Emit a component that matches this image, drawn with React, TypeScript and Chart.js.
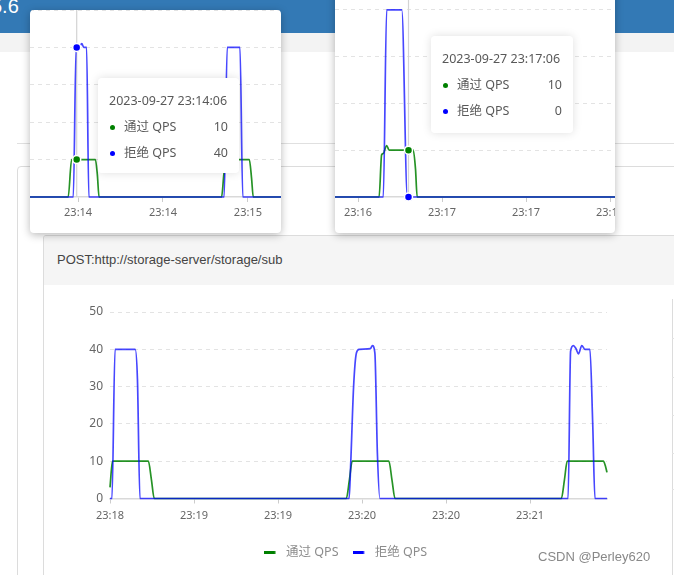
import React, { useEffect, useRef } from "react";
import { Chart, registerables } from "chart.js";

Chart.register(...registerables);

// ---------- shared ----------
const seriesNames = ["通过 QPS", "拒绝 QPS"];
const lineColors = ["rgba(0,128,0,0.85)", "rgba(0,0,255,0.72)"];
const dotColors = ["#008000", "#0000ff"];
const yTickValues = [0, 10, 20, 30, 40, 50];

// ---------- main chart (seconds from left edge) ----------
const mainTickValues = [0, 30, 60, 90, 120, 150];
const mainTickLabels = ["23:18", "23:19", "23:19", "23:20", "23:20", "23:21"];
const mainRange = [0, 177.5];
const mainPassTimes = [0, 0.9, 13.7, 14.8, 15.8, 84.4, 85.5, 86.5, 99.6, 100.7, 101.8, 161.2, 162.3, 163.3, 176.2, 177, 177.5];
const mainPassValues = [3, 10, 10, 5, 0, 0, 5, 10, 10, 5, 0, 0, 5, 10, 10, 8.5, 7];
const mainBlockTimes = [0, 0.7, 1.8, 9, 9.8, 10.7, 85.4, 86, 87, 88, 89, 93, 93.7, 94.6, 95.5, 96.4, 163.6, 164.5, 165.5, 166.4, 167.3, 168.5, 169.6, 171.4, 172.4, 173.2, 177.5];
const mainBlockValues = [0, 0, 40, 40, 32, 0, 0, 10, 30, 39, 40, 40.2, 41, 39, 12, 0, 0, 39.5, 41, 40.2, 38.8, 41, 40, 40, 20, 0, 0];

// ---------- popup card 1 (seconds from 23:14:06) ----------
const card1Title = "2023-09-27 23:14:06";
const card1Range = [-16.5, 72.2];
const card1TickValues = [0.5, 30.5, 60.5];
const card1TickLabels = ["23:14", "23:14", "23:15"];
const card1PassTimes = [-16.5, -3, -1.8, 0, 6.6, 7.3, 7.9, 51.2, 52, 52.8, 61, 61.8, 62.4, 72.2];
const card1PassValues = [0, 0, 10, 10, 10, 6, 0, 0, 6, 10, 10, 5, 0, 0];
const card1BlockTimes = [-16.5, -1.2, -0.2, 0, 1, 1.8, 2.5, 3.5, 4.3, 52.1, 53.2, 57.7, 58.7, 72.2];
const card1BlockValues = [0, 0, 40, 40, 40.2, 41, 40, 40, 0, 0, 40, 40, 0, 0];

// ---------- popup card 2 (seconds from 23:17:06) ----------
const card2Title = "2023-09-27 23:17:06";
const card2Range = [-26.25, 80.9];
const card2TickValues = [-18, 12, 42, 72];
const card2TickLabels = ["23:16", "23:17", "23:17", "23:18"];
const card2PassTimes = [-26.25, -10.5, -9.6, -9, -7.8, -6.9, 0, 1.7, 2.5, 3.1, 80.9];
const card2PassValues = [0, 0, 9, 9.3, 11, 10, 10, 10, 6, 0, 0];
const card2BlockTimes = [-26.25, -9, -7.8, -2.4, -0.4, 0, 80.9];
const card2BlockValues = [0, 0, 40, 40, 0, 0, 0];

const FONT = '"Noto Sans", "Noto Sans CJK SC", sans-serif';

const hoverPlugin = {
  id: "hoverMarker",
  beforeDatasetsDraw(chart: any, _a: any, opts: any) {
    if (opts == null || opts.time == null) return;
    const ctx = chart.ctx;
    const x = chart.scales.x.getPixelForValue(opts.time);
    const { top, bottom } = chart.chartArea;
    ctx.save();
    ctx.strokeStyle = "#d3d3d3";
    ctx.lineWidth = 1.2;
    ctx.beginPath();
    ctx.moveTo(x, top);
    ctx.lineTo(x, bottom);
    ctx.stroke();
    ctx.restore();
  },
  afterDatasetsDraw(chart: any, _a: any, opts: any) {
    if (opts == null || opts.time == null) return;
    const ctx = chart.ctx;
    chart.data.datasets.forEach((ds: any, i: number) => {
      const p = ds.data.find((d: any) => d.x === opts.time);
      if (!p) return;
      const x = chart.scales.x.getPixelForValue(p.x);
      const y = chart.scales.y.getPixelForValue(p.y);
      ctx.save();
      ctx.beginPath();
      ctx.arc(x, y, 4, 0, Math.PI * 2);
      ctx.fillStyle = dotColors[i];
      ctx.fill();
      ctx.lineWidth = 1.5;
      ctx.strokeStyle = "#fff";
      ctx.stroke();
      ctx.restore();
    });
  },
};

type ChartProps = {
  left: number;
  top: number;
  width: number;
  height: number;
  passT: number[];
  passV: number[];
  blockT: number[];
  blockV: number[];
  range: number[];
  tickValues: number[];
  tickLabels: string[];
  padTop: number;
  xAxisHeight: number;
  yAxisWidth: number;
  rightWidth: number;
  showYLabels: boolean;
  showLegend: boolean;
  hoverTime?: number;
  tickPadding: number;
};

function makeLegendImage(color: string) {
  const c = document.createElement("canvas");
  c.width = 16;
  c.height = 3;
  const g = c.getContext("2d")!;
  g.fillStyle = color;
  g.fillRect(0, 0, 11.6, 3);
  return c;
}

function QpsChart(p: ChartProps) {
  const ref = useRef<HTMLCanvasElement>(null);
  useEffect(() => {
    const toPoints = (t: number[], v: number[]) => t.map((x, i) => ({ x, y: v[i] }));
    const legendImages = dotColors.map(makeLegendImage);
    const chart = new Chart(ref.current!, {
      type: "line",
      data: {
        datasets: [
          {
            label: seriesNames[0],
            data: toPoints(p.passT, p.passV),
            borderColor: lineColors[0],
            backgroundColor: lineColors[0],
            borderWidth: 1.7,
            pointRadius: 0,
            cubicInterpolationMode: "monotone",
            fill: false,
            clip: 4,
            order: 2,
          },
          {
            label: seriesNames[1],
            data: toPoints(p.blockT, p.blockV),
            borderColor: lineColors[1],
            backgroundColor: lineColors[1],
            borderWidth: 1.7,
            pointRadius: 0,
            cubicInterpolationMode: "monotone",
            fill: false,
            clip: 4,
            order: 1,
          },
        ],
      },
      options: {
        animation: false,
        responsive: false,
        events: [],
        layout: { autoPadding: false, padding: { top: p.padTop, left: 0, right: 0, bottom: 0 } },
        scales: {
          x: {
            type: "linear",
            min: p.range[0],
            max: p.range[1],
            afterBuildTicks: (s: any) => {
              s.ticks = p.tickValues.map((v) => ({ value: v }));
            },
            afterFit: (s: any) => {
              s.height = p.xAxisHeight;
            },
            ticks: {
              autoSkip: false,
              maxRotation: 0,
              padding: p.tickPadding,
              color: "#666",
              font: { size: 11, family: FONT },
              callback: (_v: any, i: number) => p.tickLabels[i],
            },
            grid: { drawOnChartArea: false, drawTicks: true, tickLength: 5, color: "#cccccc" },
            border: { display: true, color: "#d9d9d9", width: 1.5 },
          },
          y: {
            type: "linear",
            min: 0,
            max: 50,
            afterBuildTicks: (s: any) => {
              s.ticks = yTickValues.map((v) => ({ value: v }));
            },
            afterFit: (s: any) => {
              s.width = p.yAxisWidth;
            },
            ticks: { display: p.showYLabels, padding: 7, color: "#666", font: { size: 12, family: FONT } },
            grid: {
              drawTicks: false,
              color: (c: any) => (c.tick && c.tick.value === 0 ? "rgba(0,0,0,0)" : "#e3e3e3"),
            },
            border: { display: false, dash: [4, 4] },
          },
          yRight: {
            type: "linear",
            position: "right",
            display: p.rightWidth > 0,
            afterFit: (s: any) => {
              s.width = p.rightWidth;
            },
            ticks: { display: false },
            grid: { display: false },
            border: { display: false },
          },
        },
        plugins: {
          legend: {
            display: p.showLegend,
            position: "bottom",
            labels: {
              usePointStyle: true,
              pointStyleWidth: 16,
              padding: 14,
              color: "#8c8c8c",
              font: { size: 12.5, family: FONT },
              generateLabels: (ch: any) =>
                ch.data.datasets.map((ds: any, i: number) => ({
                  text: ds.label,
                  pointStyle: legendImages[i],
                  fillStyle: dotColors[i],
                  strokeStyle: dotColors[i],
                  lineWidth: 0,
                  hidden: false,
                  datasetIndex: i,
                  fontColor: "#8c8c8c",
                })),
            },
          },
          tooltip: { enabled: false },
          hoverMarker: { time: p.hoverTime },
        } as any,
      } as any,
      plugins: [hoverPlugin],
    });
    return () => chart.destroy();
  }, []);
  return (
    <canvas
      ref={ref}
      width={p.width}
      height={p.height}
      style={{ position: "absolute", left: p.left, top: p.top, width: p.width, height: p.height }}
    />
  );
}

function Tip(props: { left: number; top: number; width: number; height: number; title: string; values: number[] }) {
  return (
    <div
      style={{
        position: "absolute",
        left: props.left,
        top: props.top,
        width: props.width,
        height: props.height,
        background: "#fff",
        borderRadius: 4,
        boxShadow: "0 0 10px rgba(0,0,0,0.13)",
        fontFamily: FONT,
        fontSize: 12.5,
        color: "#595959",
      }}
    >
      <div style={{ position: "absolute", left: 11, top: 15, lineHeight: "16px", whiteSpace: "nowrap" }}>{props.title}</div>
      {seriesNames.map((n, i) => (
        <div key={i} style={{ position: "absolute", left: 0, right: 11, top: 41 + i * 26, height: 16, lineHeight: "16px" }}>
          <span
            style={{
              position: "absolute",
              left: 12,
              top: 5.5,
              width: 5,
              height: 5,
              borderRadius: "50%",
              background: dotColors[i],
            }}
          />
          <span style={{ position: "absolute", left: 26, whiteSpace: "nowrap" }}>{n}</span>
          <span style={{ position: "absolute", right: 0 }}>{props.values[i]}</span>
        </div>
      ))}
    </div>
  );
}

const valueAt = (t: number[], v: number[], time: number) => v[t.indexOf(time)];

export default function App() {
  const rowLines = [338, 377, 415, 453, 489];
  return (
    <div
      style={{
        position: "fixed",
        left: 0,
        top: 0,
        width: 674,
        height: 575,
        overflow: "hidden",
        background: "#fff",
        fontFamily: FONT,
      }}
    >
      {/* page header */}
      <div style={{ position: "absolute", left: 0, top: 0, width: 674, height: 33, background: "#3379b5", overflow: "hidden" }}>
        <span
          style={{
            position: "absolute",
            left: -9,
            top: -4,
            fontSize: 20,
            lineHeight: "20px",
            color: "#fff",
            fontFamily: '"Liberation Sans", Arial, sans-serif',
          }}
        >
          5.6
        </span>
      </div>
      <div style={{ position: "absolute", left: 0, top: 33, width: 674, height: 19, background: "#f3f3f3" }} />
      <div style={{ position: "absolute", left: 17, top: 143, width: 700, height: 0, borderTop: "1px solid #e0e0e0" }} />
      <div
        style={{
          position: "absolute",
          left: 17,
          top: 166,
          width: 700,
          height: 500,
          border: "1px solid #dcdcdc",
          borderRadius: 4,
        }}
      />

      {/* main card */}
      <div
        style={{
          position: "absolute",
          left: 43,
          top: 235,
          width: 700,
          height: 400,
          border: "1px solid #dcdcdc",
          borderRadius: 3,
          background: "#fff",
          overflow: "hidden",
        }}
      >
        <div
          style={{
            position: "absolute",
            left: 0,
            top: 0,
            width: 700,
            height: 49,
            background: "#f5f5f5",
            lineHeight: "47px",
            paddingLeft: 13,
            fontSize: 13,
            color: "#444",
            fontFamily: '"Liberation Sans", Arial, sans-serif',
          }}
        >
          POST:http://storage-server/storage/sub
        </div>
      </div>
      <div style={{ position: "absolute", left: 672, top: 299, width: 10, height: 300, borderLeft: "1px solid #dcdcdc" }} />
      {rowLines.map((y, i) => (
        <div key={i} style={{ position: "absolute", left: 672, top: y, width: 10, height: 0, borderTop: "1px solid #e3e3e3" }} />
      ))}

      <QpsChart
        left={44}
        top={290}
        width={603}
        height={279}
        passT={mainPassTimes}
        passV={mainPassValues}
        blockT={mainBlockTimes}
        blockV={mainBlockValues}
        range={mainRange}
        tickValues={mainTickValues}
        tickLabels={mainTickLabels}
        padTop={22}
        xAxisHeight={34}
        yAxisWidth={66}
        rightWidth={40}
        showYLabels={true}
        showLegend={true}
        tickPadding={6}
      />

      {/* popup card 1 */}
      <div
        style={{
          position: "absolute",
          left: 30,
          top: 10,
          width: 251,
          height: 223,
          background: "#fff",
          borderRadius: 4,
          boxShadow: "0 2px 8px rgba(0,0,0,0.28)",
          overflow: "hidden",
        }}
      >
        <QpsChart
          left={0}
          top={0}
          width={251}
          height={223}
          passT={card1PassTimes}
          passV={card1PassValues}
          blockT={card1BlockTimes}
          blockV={card1BlockValues}
          range={card1Range}
          tickValues={card1TickValues}
          tickLabels={card1TickLabels}
          padTop={0}
          xAxisHeight={36}
          yAxisWidth={0}
          rightWidth={0}
          showYLabels={false}
          showLegend={false}
          hoverTime={0}
          tickPadding={4}
        />
      </div>
      <Tip
        left={98}
        top={78}
        width={141}
        height={95}
        title={card1Title}
        values={[valueAt(card1PassTimes, card1PassValues, 0), valueAt(card1BlockTimes, card1BlockValues, 0)]}
      />

      {/* popup card 2 */}
      <div
        style={{
          position: "absolute",
          left: 335,
          top: -40,
          width: 280,
          height: 273,
          background: "#fff",
          borderRadius: 4,
          boxShadow: "0 2px 8px rgba(0,0,0,0.28)",
          overflow: "hidden",
        }}
      >
        <QpsChart
          left={0}
          top={0}
          width={300}
          height={273}
          passT={card2PassTimes}
          passV={card2PassValues}
          blockT={card2BlockTimes}
          blockV={card2BlockValues}
          range={card2Range}
          tickValues={card2TickValues}
          tickLabels={card2TickLabels}
          padTop={3}
          xAxisHeight={36}
          yAxisWidth={0}
          rightWidth={0}
          showYLabels={false}
          showLegend={false}
          hoverTime={0}
          tickPadding={4}
        />
      </div>
      <Tip
        left={431}
        top={36}
        width={142}
        height={97}
        title={card2Title}
        values={[valueAt(card2PassTimes, card2PassValues, 0), valueAt(card2BlockTimes, card2BlockValues, 0)]}
      />

      <div
        style={{
          position: "absolute",
          left: 538,
          top: 549,
          fontSize: 13,
          lineHeight: "16px",
          color: "#888",
          fontFamily: '"Liberation Sans", Arial, sans-serif',
          whiteSpace: "nowrap",
        }}
      >
        CSDN @Perley620
      </div>
    </div>
  );
}
